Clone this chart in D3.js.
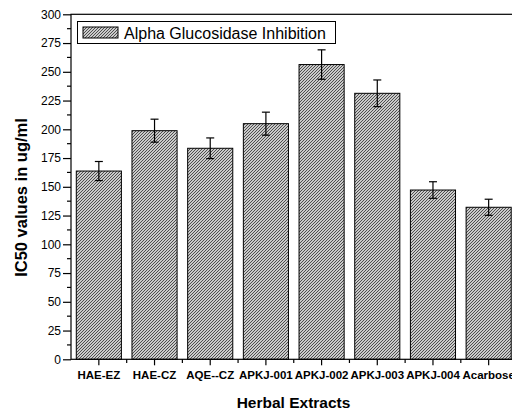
<!DOCTYPE html>
<html><head><meta charset="utf-8">
<script src="https://cdn.jsdelivr.net/npm/d3@7"></script>
<style>body{margin:0;background:#fff}svg{display:block}</style>
</head><body>
<script>
const categories = ["HAE-EZ","HAE-CZ","AQE--CZ","APKJ-001","APKJ-002","APKJ-003","APKJ-004","Acarbose"];
const values = [163.7, 198.8, 183.5, 204.9, 256.3, 231.3, 147.2, 132.2];
const errors = [8.3, 10, 9, 10, 12.8, 11.6, 7.2, 7];
const yTicks = [0,25,50,75,100,125,150,175,200,225,250,275,300];
const seriesName = "Alpha Glucosidase Inhibition";

const W = 512, H = 412;
const FONT = "Arial, Liberation Sans, sans-serif";
const svg = d3.select("body").append("svg").attr("width", W).attr("height", H);
const defs = svg.append("defs");
const pat = defs.append("pattern").attr("id","hatch").attr("patternUnits","userSpaceOnUse")
  .attr("width",3).attr("height",3);
pat.append("rect").attr("width",3).attr("height",3).attr("fill","#cacaca");
pat.append("path").attr("d","M-1,1 l2,-2 M0,3 l3,-3 M2,4 l2,-2").attr("stroke","#383838").attr("stroke-width",0.85);

const x = d3.scaleBand().domain(categories).range([71, 516.5]).paddingInner(0.19).paddingOuter(0.095);
const y = d3.scaleLinear().domain([0,300]).range([359.3, 14.3]);

// bars
svg.selectAll("rect.bar").data(categories).join("rect").attr("class","bar")
  .attr("x", d => x(d)).attr("width", x.bandwidth())
  .attr("y", (d,i) => y(values[i])).attr("height", (d,i) => y(0) - y(values[i]))
  .attr("fill","url(#hatch)").attr("stroke","#000").attr("stroke-width",1);

// error bars
const eg = svg.append("g").attr("stroke","#000").attr("stroke-width",1.2);
categories.forEach((c,i) => {
  const cx = x(c) + x.bandwidth()/2;
  eg.append("line").attr("x1",cx).attr("x2",cx).attr("y1",y(values[i]+errors[i])).attr("y2",y(values[i]-errors[i]));
  eg.append("line").attr("x1",cx-4).attr("x2",cx+4).attr("y1",y(values[i]+errors[i])).attr("y2",y(values[i]+errors[i]));
  eg.append("line").attr("x1",cx-4).attr("x2",cx+4).attr("y1",y(values[i]-errors[i])).attr("y2",y(values[i]-errors[i]));
});

// frame
svg.append("rect").attr("x",71).attr("y",14.3).attr("width",445.5).attr("height",345)
  .attr("fill","none").attr("stroke","#000").attr("stroke-width",1.2);

// y axis
const yAxis = d3.axisLeft(y).tickValues(yTicks).tickSize(8).tickPadding(2);
const gy = svg.append("g").attr("transform","translate(71,0)").call(yAxis);
gy.select(".domain").remove();
gy.selectAll("text").attr("font-family",FONT).attr("font-size",12).attr("fill","#000");
gy.selectAll("line").attr("stroke-width",1.2);
const minor = d3.range(12.5, 300, 25);
svg.append("g").selectAll("line").data(minor).join("line")
  .attr("x1",67).attr("x2",71).attr("y1",d=>y(d)).attr("y2",d=>y(d)).attr("stroke","#000").attr("stroke-width",1.2);

// x axis
const xAxis = d3.axisBottom(x).tickSize(6).tickPadding(6);
const gx = svg.append("g").attr("transform","translate(0,359.3)").call(xAxis);
gx.select(".domain").remove();
gx.selectAll("text").attr("font-family",FONT).attr("font-size",11.5).attr("font-weight","bold").attr("fill","#000");
gx.selectAll("line").attr("stroke-width",1.2);
const step = x.step();
svg.append("g").selectAll("line").data(d3.range(1, categories.length)).join("line")
  .attr("x1",d=>71+d*step).attr("x2",d=>71+d*step).attr("y1",359.3).attr("y2",363)
  .attr("stroke","#000").attr("stroke-width",1.2);

// axis titles
svg.append("text").attr("x",293.5).attr("y",407.7).attr("text-anchor","middle")
  .attr("font-family",FONT).attr("font-size",15.5).attr("font-weight","bold").text("Herbal Extracts");
svg.append("text").attr("transform","translate(27,197.5) rotate(-90)").attr("text-anchor","middle")
  .attr("font-family",FONT).attr("font-size",16.5).attr("font-weight","bold").text("IC50 values in ug/ml");

// legend
svg.append("rect").attr("x",77.5).attr("y",21.5).attr("width",258).attr("height",22)
  .attr("fill","#fff").attr("stroke","#000").attr("stroke-width",1);
svg.append("rect").attr("x",83).attr("y",27).attr("width",35).attr("height",11)
  .attr("fill","url(#hatch)").attr("stroke","#000").attr("stroke-width",1);
svg.append("text").attr("x",124).attr("y",38.7).attr("font-family",FONT)
  .attr("font-size",16).text(seriesName);
</script>
</body></html>
